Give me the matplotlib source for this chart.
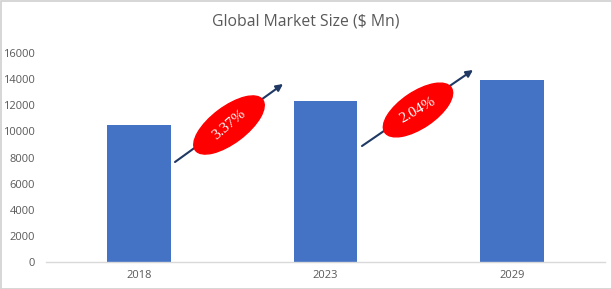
import matplotlib
matplotlib.use("Agg")
import matplotlib.pyplot as plt
from matplotlib.patches import Ellipse, Rectangle

categories = ["2018", "2023", "2029"]
values = [10450, 12350, 13950]
cagr_labels = ["3.37%", "2.04%"]
y_ticks = [0, 2000, 4000, 6000, 8000, 10000, 12000, 14000, 16000]

plt.rcParams["font.serif"] = ["Liberation Serif", "DejaVu Serif"]

W, H = 612, 289
fig = plt.figure(figsize=(W / 100, H / 100), dpi=100)
ax = fig.add_axes([46 / W, 27 / H, (605 - 46) / W, (262 - 53) / H])

x = list(range(len(categories)))
ax.bar(x, values, width=0.34, color="#4472c4", zorder=2)
ax.set_xlim(-0.5, 2.5)
ax.set_ylim(0, 16000)
ax.set_yticks(y_ticks)
ax.set_yticklabels([str(v) for v in y_ticks], family="Open Sans")
ax.set_xticks(x)
ax.set_xticklabels(categories, family="Open Sans")
ax.tick_params(axis="y", length=0, pad=8, labelsize=8, labelcolor="#595959")
ax.tick_params(axis="x", length=0, pad=6, labelsize=8, labelcolor="#595959")
for s in ["top", "right", "left"]:
    ax.spines[s].set_visible(False)
ax.spines["bottom"].set_color("#d9d9d9")
ax.spines["bottom"].set_linewidth(1.0)

fig.text(0.5, (H - 22) / H, "Global Market Size ($ Mn)", ha="center", va="center",
         fontsize=11.3, color="#595959", family="Open Sans")

# overlay in pixel coordinates for annotations
ov = fig.add_axes([0, 0, 1, 1], facecolor="none")
ov.set_xlim(0, W)
ov.set_ylim(0, H)
ov.axis("off")

ov.add_patch(Rectangle((0.5, 0.5), W - 1, H - 1, fill=False, edgecolor="#d0d0d0", lw=1.2))

arrows = [((175, 162), (283, 84)), ((362, 146), (473, 70))]
ellipses = [((229, 125), 84, 36, 37), ((418, 110), 80, 36, 34)]
text_rot = [40, 30]
for (p0, p1), (c, w, h, ang), lab, rot in zip(arrows, ellipses, cagr_labels, text_rot):
    ov.annotate("", xy=(p1[0], H - p1[1]), xytext=(p0[0], H - p0[1]),
                arrowprops=dict(arrowstyle="-|>", color="#1f3864", lw=1.5,
                                mutation_scale=10, shrinkA=0, shrinkB=0))
    ov.add_patch(Ellipse((c[0], H - c[1]), w, h, angle=ang, color="#ff0000", zorder=3))
    ov.text(c[0], H - c[1], lab, rotation=rot, ha="center", va="center",
            color="white", fontsize=11, family="serif", zorder=4,
            rotation_mode="anchor")

fig.savefig("out.png", dpi=100)
